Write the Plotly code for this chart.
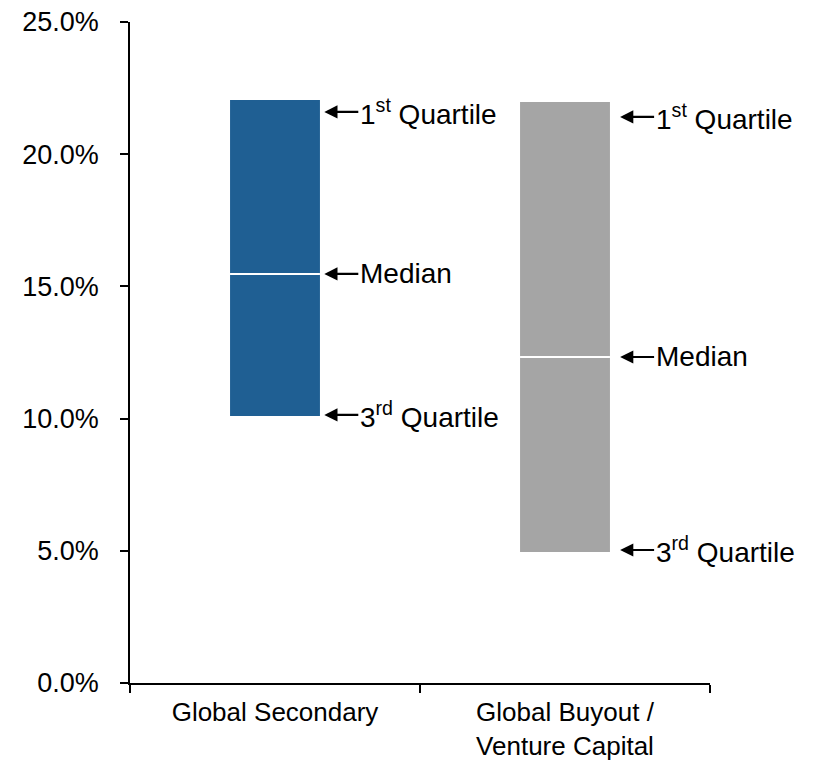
import plotly.graph_objects as go

categories = ["Global Secondary", "Global Buyout /<br>Venture Capital"]
q1 = [22.05, 21.97]      # 1st quartile (top)
median = [15.47, 12.33]
q3 = [10.10, 4.95]       # 3rd quartile (bottom)
colors = ["#1F5F93", "#A5A5A5"]
ann_y = [[21.60, 15.47, 10.14], [21.41, 12.33, 5.03]]
ann_x_off = [0.17, 0.19]
ann_text = ["1<sup>st</sup> Quartile", "Median", "3<sup>rd</sup> Quartile"]
yticks = [0, 5, 10, 15, 20, 25]

FONT = "Liberation Sans, Arial, sans-serif"

fig = go.Figure()
fig.add_trace(go.Bar(
    x=categories,
    y=[a - b for a, b in zip(q1, q3)],
    base=q3,
    marker=dict(color=colors, line=dict(width=0)),
    width=0.31,
    showlegend=False,
    hoverinfo="skip",
))

shapes = []
for i in range(len(categories)):
    shapes.append(dict(type="line", xref="x", yref="y",
                       x0=i - 0.155, x1=i + 0.155, y0=median[i], y1=median[i],
                       line=dict(color="white", width=2)))

annotations = []
for i in range(len(categories)):
    for j, t in enumerate(ann_text):
        annotations.append(dict(
            xref="x", yref="y", x=i + ann_x_off[i], y=ann_y[i][j],
            text=t, showarrow=True, ax=34, ay=0,
            xanchor="left", yanchor="middle",
            arrowhead=2, arrowsize=1.2, arrowwidth=2.2, arrowcolor="black",
            font=dict(family=FONT, size=28, color="black"),
        ))

fig.update_layout(
    width=813, height=764,
    margin=dict(l=130, r=103, t=22, b=81),
    paper_bgcolor="white", plot_bgcolor="white",
    shapes=shapes, annotations=annotations,
    font=dict(family=FONT, color="black"),
)
fig.update_xaxes(
    type="category", showline=True, linecolor="black", linewidth=1.5,
    ticks="outside", tickson="boundaries", ticklen=8, tickcolor="black", tickwidth=1.5,
    tickfont=dict(size=26, color="black", family=FONT),
    ticklabelstandoff=5, automargin=False,
    showgrid=False, range=[-0.5, 1.5],
)
fig.update_yaxes(
    range=[0, 25], tickvals=yticks, ticktext=[f"{v:.1f}%" for v in yticks],
    showline=True, linecolor="black", linewidth=1.5,
    ticks="outside", ticklen=8, tickcolor="black", tickwidth=1.5,
    tickfont=dict(size=27, color="black", family=FONT),
    ticklabelstandoff=16, automargin=False,
    showgrid=False, zeroline=False,
)

fig.write_html("out.html")
